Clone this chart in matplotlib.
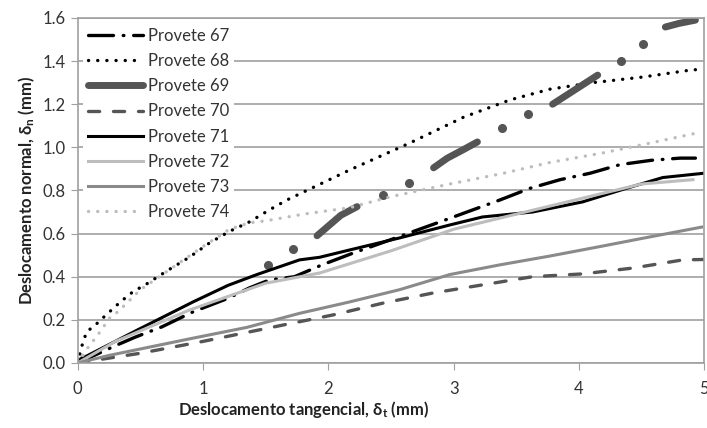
import numpy as np
import matplotlib
matplotlib.use("Agg")
import matplotlib.pyplot as plt

plt.rcParams["font.family"] = ["Lato", "DejaVu Sans"]
plt.rcParams["lines.scale_dashes"] = False

nan = np.nan

# Provete 67
p67_x = [0, 0.3, 0.46, 0.67, 0.92, 1.2, 1.37, 1.53, 1.73, 1.95, 2.2, 2.49, 2.67, 2.89,
         3.13, 3.37, 3.61, 3.85, 4.09, 4.33, 4.58, 4.81, 4.93]
p67_y = [0, 0.08, 0.12, 0.167, 0.237, 0.30, 0.348, 0.385, 0.40, 0.455, 0.51, 0.57, 0.608,
         0.654, 0.705, 0.756, 0.81, 0.85, 0.88, 0.92, 0.94, 0.95, 0.95]
# Provete 68
p68_x = [0, 0.03, 0.07, 0.14, 0.24, 0.34, 0.44, 0.56, 0.72, 0.89, 1.05, 1.21, 1.37, 1.53,
         1.67, 2.17, 2.65, 3.08, 3.45, 3.77, 4.11, 4.51, 4.91, 5.0]
p68_y = [0, 0.074, 0.144, 0.176, 0.23, 0.283, 0.33, 0.37, 0.43, 0.49, 0.556, 0.61, 0.654,
         0.71, 0.756, 0.895, 1.02, 1.14, 1.22, 1.27, 1.30, 1.326, 1.36, 1.36]
# Provete 69 (line pieces separated by gaps, plus isolated points)
p69_x = [0, 0.05, nan, 1.91, 2.0, 2.1, 2.23, nan, 2.84, 2.95, 3.08, 3.19, nan,
         3.79, 3.95, 4.15, nan, 4.69, 4.8, 4.93]
p69_y = [0, 0.02, nan, 0.59, 0.635, 0.685, 0.725, nan, 0.905, 0.95, 0.99, 1.025, nan,
         1.20, 1.26, 1.335, nan, 1.558, 1.575, 1.59]
p69_pts_x = [1.52, 1.72, 2.44, 2.64, 3.39, 3.59, 4.34, 4.51]
p69_pts_y = [0.455, 0.53, 0.78, 0.835, 1.09, 1.155, 1.40, 1.48]
# Provete 70
p70_x = [0, 0.5, 1.0, 1.37, 1.64, 2.04, 2.44, 2.84, 3.23, 3.63, 4.03, 4.43, 4.83, 5.0]
p70_y = [0, 0.045, 0.1, 0.144, 0.176, 0.223, 0.278, 0.325, 0.362, 0.40, 0.413, 0.44, 0.478, 0.48]
# Provete 71
p71_x = [0, 0.03, 0.5, 0.92, 1.2, 1.43, 1.77, 1.93, 2.17, 2.57, 2.97, 3.23, 3.63, 4.03,
         4.38, 4.67, 5.0]
p71_y = [0, 0.02, 0.16, 0.283, 0.36, 0.41, 0.478, 0.49, 0.524, 0.58, 0.64, 0.677, 0.70,
         0.747, 0.81, 0.86, 0.88]
# Provete 72
p72_x = [0, 0.3, 0.89, 1.5, 1.93, 2.5, 3.0, 3.5, 4.0, 4.5, 4.91]
p72_y = [0, 0.1, 0.245, 0.37, 0.417, 0.52, 0.62, 0.69, 0.76, 0.83, 0.85]
# Provete 73
p73_x = [0, 0.25, 0.92, 1.35, 1.77, 2.17, 2.57, 2.97, 3.37, 3.77, 4.17, 4.57, 4.98]
p73_y = [0, 0.035, 0.115, 0.165, 0.23, 0.283, 0.34, 0.41, 0.455, 0.496, 0.54, 0.585, 0.63]
# Provete 74
p74_x = [0, 0.08, 0.16, 0.26, 0.32, 0.5, 0.8, 1.0, 1.21, 1.37, 1.51, 1.8, 2.17, 2.49,
         2.97, 3.4, 3.77, 4.2, 4.57, 4.97]
p74_y = [0, 0.07, 0.13, 0.213, 0.237, 0.34, 0.46, 0.54, 0.62, 0.65, 0.66, 0.69, 0.72,
         0.77, 0.83, 0.88, 0.93, 0.975, 1.02, 1.07]

x_ticks = [0, 1, 2, 3, 4, 5]
y_ticks = [0.0, 0.2, 0.4, 0.6, 0.8, 1.0, 1.2, 1.4, 1.6]

fig = plt.figure(figsize=(7.07, 4.28), dpi=100)
ax = fig.add_axes([0.110, 0.152, 0.886, 0.806])

dark = "#555555"
light = "#bdbdbd"
mid = "#8a8a8a"

ax.plot(p67_x, p67_y, color="black", lw=2.4, dashes=(18, 7, 0.5, 7),
        dash_capstyle="round", label="Provete 67")
ax.plot(p68_x, p68_y, color="black", lw=2.4, dashes=(0.1, 6.5),
        dash_capstyle="round", label="Provete 68")
ax.plot(p69_x, p69_y, color=dark, lw=5, solid_capstyle="round", label="Provete 69")
ax.plot(p69_pts_x, p69_pts_y, ls="none", marker="o", ms=5.5, color=dark)
ax.plot(p70_x, p70_y, color=dark, lw=2.4, dashes=(8, 10), dash_capstyle="round",
        label="Provete 70")
ax.plot(p71_x, p71_y, color="black", lw=2.2, label="Provete 71")
ax.plot(p72_x, p72_y, color=light, lw=2.2, label="Provete 72")
ax.plot(p73_x, p73_y, color=mid, lw=2.2, label="Provete 73")
ax.plot(p74_x, p74_y, color=light, lw=2.4, dashes=(0.1, 6.5), dash_capstyle="round",
        label="Provete 74")

ax.set_xlim(0, 5)
ax.set_ylim(0, 1.6)
ax.set_xticks(x_ticks)
ax.set_xticklabels([str(v) for v in x_ticks])
ax.set_yticks(y_ticks)
ax.set_yticklabels([f"{v:.1f}" for v in y_ticks])
ax.yaxis.grid(True, color="#a0a0a0", lw=1.2)
ax.set_axisbelow(True)
for s in ax.spines.values():
    s.set_color("#a0a0a0")
    s.set_linewidth(1.2)
ax.tick_params(colors="#a0a0a0", labelcolor="#333333", labelsize=12, length=5)
ax.tick_params(axis="x", pad=8)

ax.set_xlabel(r"Deslocamento tangencial, δ$\mathregular{_t}$ (mm)", fontsize=12,
              fontweight="bold", color="#222222")
ax.xaxis.set_label_coords(0.36, -0.105)
ax.set_ylabel(r"Deslocamento normal, δ$\mathregular{_n}$ (mm)", fontsize=12,
              fontweight="bold", color="#222222")

leg = ax.legend(loc="upper left", bbox_to_anchor=(0.0, 1.0), fontsize=12,
                frameon=True, fancybox=False, handlelength=3.3, handletextpad=0.3,
                labelspacing=0.55, borderpad=0.3, borderaxespad=0.3)
leg.get_frame().set_edgecolor("none")
leg.get_frame().set_facecolor("white")
leg.get_frame().set_alpha(1)
for t in leg.get_texts():
    t.set_color("#333333")

fig.savefig("out.png", dpi=100)
